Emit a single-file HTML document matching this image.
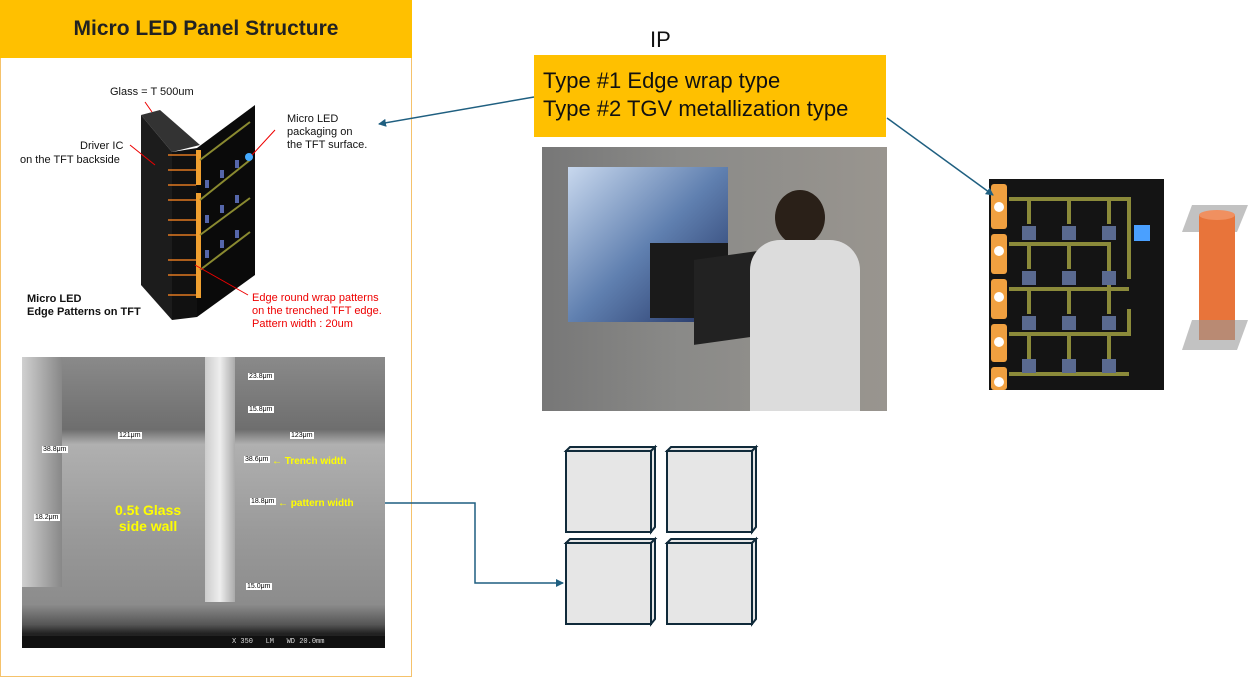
<!DOCTYPE html>
<html><head><meta charset="utf-8"><style>
body{margin:0;width:1249px;height:677px;background:#fff;position:relative;overflow:hidden;font-family:"Liberation Sans",sans-serif}
.a{position:absolute}
.t{position:absolute;font-size:11px;color:#111;white-space:nowrap;line-height:13px}
.r{color:#e00}
.y{color:#ff0;font-weight:bold;font-size:10px}
.lbl{position:absolute;background:#fff;font-size:7px;padding:0 1px;color:#000}
</style></head><body>
<div class="a" style="left:0;top:0;width:410px;height:675px;border:1px solid #f5c26b"></div>
<div class="a" style="left:0;top:0;width:412px;height:58px;background:#ffc000;font-weight:bold;font-size:21px;line-height:58px;text-align:center;color:#222">Micro LED Panel Structure</div>

<!-- 3D structure -->
<svg class="a" style="left:0;top:60px" width="412" height="280">
<polygon points="141,55 160,50 200,85 172,92" fill="#333"/>
<polygon points="141,55 172,92 172,260 141,225" fill="#1c1c1c"/>
<polygon points="172,92 197,88 197,257 172,260" fill="#111"/>
<polygon points="197,88 255,45 255,215 197,257" fill="#0a0a0a"/>
<g stroke="#e07820" stroke-width="1.5">
<line x1="168" y1="95" x2="196" y2="95"/><line x1="168" y1="110" x2="196" y2="110"/><line x1="168" y1="125" x2="196" y2="125"/><line x1="168" y1="140" x2="196" y2="140"/><line x1="168" y1="160" x2="196" y2="160"/><line x1="168" y1="175" x2="196" y2="175"/><line x1="168" y1="200" x2="196" y2="200"/><line x1="168" y1="215" x2="196" y2="215"/><line x1="168" y1="235" x2="196" y2="235"/></g>
<g fill="#f0a030"><rect x="196" y="90" width="5" height="35"/><rect x="196" y="133" width="5" height="35"/><rect x="196" y="168" width="5" height="35"/><rect x="196" y="203" width="5" height="35"/></g>
<g stroke="#8a8a30" stroke-width="2" fill="none"><path d="M200,100 L250,62"/><path d="M200,140 L250,100"/><path d="M200,175 L250,138"/><path d="M200,210 L250,172"/></g>
<g fill="#5566aa"><rect x="205" y="120" width="4" height="8"/><rect x="220" y="110" width="4" height="8"/><rect x="235" y="100" width="4" height="8"/><rect x="205" y="155" width="4" height="8"/><rect x="220" y="145" width="4" height="8"/><rect x="235" y="135" width="4" height="8"/><rect x="205" y="190" width="4" height="8"/><rect x="220" y="180" width="4" height="8"/><rect x="235" y="170" width="4" height="8"/></g>
<circle cx="249" cy="97" r="4" fill="#4af"/>
<g stroke="#e00" stroke-width="1"><line x1="145" y1="42" x2="152" y2="52"/><line x1="130" y1="85" x2="155" y2="105"/><line x1="275" y1="70" x2="252" y2="95"/><line x1="248" y1="235" x2="195" y2="205"/></g>
</svg>
<div class="t" style="left:110px;top:86px">Glass = T 500um</div>
<div class="t" style="left:80px;top:140px;text-align:right">Driver IC</div>
<div class="t" style="left:20px;top:154px">on the TFT backside</div>
<div class="t" style="left:287px;top:113px">Micro LED<br>packaging on<br>the TFT surface.</div>
<div class="t" style="left:27px;top:293px;font-weight:bold">Micro LED<br>Edge Patterns on TFT</div>
<div class="t r" style="left:252px;top:292px">Edge round wrap patterns<br>on the trenched TFT edge.<br>Pattern width : 20um</div>

<!-- SEM -->
<div class="a" style="left:22px;top:357px;width:363px;height:291px;background:linear-gradient(180deg,#8a8a8a 0%,#6e6e6e 25%,#b0b0b0 30%,#9a9a9a 60%,#8c8c8c 85%,#555 92%,#222 95%)"></div>
<div class="a" style="left:22px;top:357px;width:40px;height:230px;background:linear-gradient(90deg,#d0d0d0,#888)"></div>
<div class="a" style="left:205px;top:357px;width:30px;height:245px;background:linear-gradient(90deg,#ccc,#eee,#aaa)"></div>
<div class="a" style="left:22px;top:636px;width:363px;height:12px;background:#111;color:#ddd;font-size:7px;font-family:'Liberation Mono',monospace;line-height:12px"><span style="margin-left:210px">X 350 &nbsp; LM &nbsp; WD 20.0mm</span></div>
<div class="lbl" style="left:248px;top:373px">23.8μm</div>
<div class="lbl" style="left:248px;top:406px">15.8μm</div>
<div class="lbl" style="left:118px;top:432px">121μm</div>
<div class="lbl" style="left:290px;top:432px">123μm</div>
<div class="lbl" style="left:42px;top:446px">38.8μm</div>
<div class="lbl" style="left:244px;top:456px">38.6μm</div>
<div class="lbl" style="left:250px;top:498px">18.8μm</div>
<div class="lbl" style="left:34px;top:514px">18.2μm</div>
<div class="lbl" style="left:246px;top:583px">15.0μm</div>
<div class="t y" style="left:272px;top:455px">← Trench width</div>
<div class="t y" style="left:278px;top:497px">← pattern width</div>
<div class="t y" style="left:115px;top:502px;font-size:14px;line-height:16px;text-align:center">0.5t Glass<br>side wall</div>

<!-- IP -->
<div class="t" style="left:650px;top:28px;font-size:22px;line-height:24px">IP</div>
<div class="a" style="left:534px;top:55px;width:352px;height:82px;background:#ffc000;font-size:22px;line-height:28px;padding:12px 0 0 9px;box-sizing:border-box;color:#111">Type #1 Edge wrap type<br>Type #2 TGV metallization type</div>

<!-- photo -->
<div class="a" style="left:542px;top:147px;width:345px;height:264px;background:linear-gradient(90deg,#777 0%,#8a8a88 40%,#99958f 100%)"></div>
<div class="a" style="left:568px;top:167px;width:160px;height:155px;background:linear-gradient(135deg,#c8d8ee,#6080b0 50%,#203060)"></div>
<div class="a" style="left:650px;top:243px;width:78px;height:75px;background:#1a1a1a"></div>
<div class="a" style="left:694px;top:255px;width:70px;height:85px;background:#222;transform:skewY(-8deg)"></div>
<div class="a" style="left:775px;top:190px;width:50px;height:55px;background:#2a2018;border-radius:50%"></div>
<div class="a" style="left:750px;top:240px;width:110px;height:171px;background:#dcdcdc;border-radius:30px 30px 0 0"></div>

<!-- LED image -->
<svg class="a" style="left:989px;top:179px" width="175" height="211">
<rect width="175" height="211" fill="#141414"/>
<g stroke="#8b8a3a" stroke-width="4" fill="none">
<path d="M20,20 H140 V100"/><path d="M20,65 H120 V110 "/><path d="M20,110 H140"/><path d="M20,155 H140 V130"/><path d="M20,195 H140"/>
<path d="M40,20 V45 M80,20 V45 M120,20 V45 M40,65 V90 M80,65 V90 M40,110 V135 M80,110 V135 M120,110 V135 M40,155 V180 M80,155 V180 M120,155 V180"/></g>
<g fill="#5a6a90"><rect x="33" y="47" width="14" height="14"/><rect x="73" y="47" width="14" height="14"/><rect x="113" y="47" width="14" height="14"/><rect x="33" y="92" width="14" height="14"/><rect x="73" y="92" width="14" height="14"/><rect x="113" y="92" width="14" height="14"/><rect x="33" y="137" width="14" height="14"/><rect x="73" y="137" width="14" height="14"/><rect x="113" y="137" width="14" height="14"/><rect x="33" y="180" width="14" height="14"/><rect x="73" y="180" width="14" height="14"/><rect x="113" y="180" width="14" height="14"/></g>
<rect x="145" y="46" width="16" height="16" fill="#4aa0ff"/>
<g fill="#f0a040"><rect x="2" y="5" width="16" height="45" rx="3"/><rect x="2" y="55" width="16" height="40" rx="3"/><rect x="2" y="100" width="16" height="40" rx="3"/><rect x="2" y="145" width="16" height="38" rx="3"/><rect x="2" y="188" width="16" height="23" rx="3"/></g>
<g fill="#fff"><circle cx="10" cy="28" r="5"/><circle cx="10" cy="72" r="5"/><circle cx="10" cy="118" r="5"/><circle cx="10" cy="163" r="5"/><circle cx="10" cy="203" r="5"/></g>
</svg>
<svg class="a" style="left:1180px;top:200px" width="69" height="155">
<polygon points="12,5 68,5 57,32 2,32" fill="#999" opacity=".6"/>
<rect x="19" y="15" width="36" height="125" fill="#e8743a"/>
<ellipse cx="37" cy="15" rx="18" ry="5" fill="#f09060"/>
<polygon points="12,120 68,120 57,150 2,150" fill="#999" opacity=".6"/>
</svg>

<!-- boxes -->
<svg class="a" style="left:0;top:0" width="1249" height="677">
<defs><marker id="m" markerWidth="8" markerHeight="8" refX="7" refY="4" orient="auto" markerUnits="userSpaceOnUse"><path d="M0,0 L8,4 L0,8 z" fill="#1f5f80"/></marker></defs>
<g fill="#e6e6e6" stroke="#102a3a" stroke-width="2">
<g id="b"><polygon points="566,451 570,447 655,447 651,451"/><polygon points="651,451 655,447 655,527 651,532"/><rect x="566" y="451" width="85" height="81"/></g>
<use href="#b" x="101"/><use href="#b" y="92"/><use href="#b" x="101" y="92"/>
</g>
<g stroke="#1f5f80" stroke-width="1.5" fill="none">
<line x1="534" y1="97" x2="379" y2="124" marker-end="url(#m)"/>
<line x1="887" y1="118" x2="993" y2="195" marker-end="url(#m)"/>
<polyline points="385,503 475,503 475,583 563,583" marker-end="url(#m)"/>
</g>
</svg>
</body></html>
